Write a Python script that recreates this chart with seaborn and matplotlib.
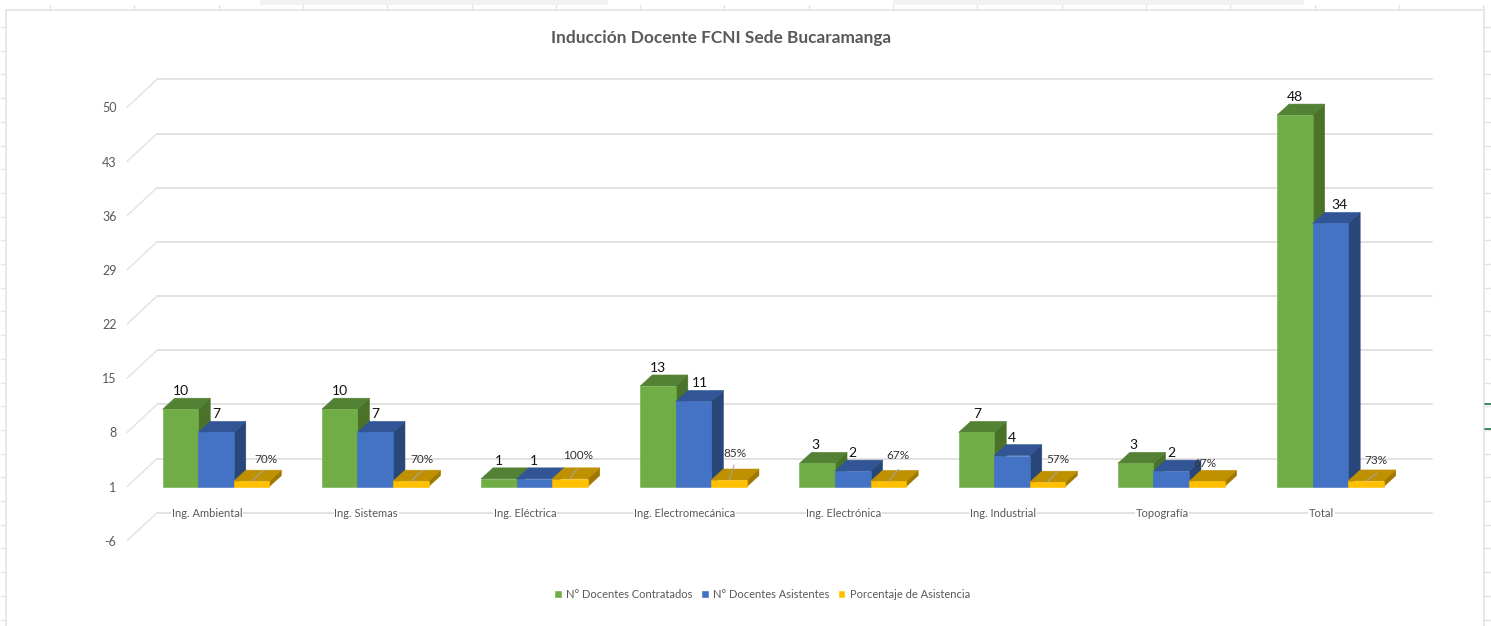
import numpy as np
import pandas as pd
import matplotlib
matplotlib.use("Agg")
import matplotlib.pyplot as plt
from matplotlib.lines import Line2D
from matplotlib.patches import Polygon, Rectangle
from matplotlib.transforms import Affine2D
import seaborn as sns

# ---------- data ----------
categories = ["Ing. Ambiental", "Ing. Sistemas", "Ing. Eléctrica", "Ing. Electromecánica",
              "Ing. Electrónica", "Ing. Industrial", "Topografía", "Total"]
contratados = [10, 10, 1, 13, 3, 7, 3, 48]
asistentes = [7, 7, 1, 11, 2, 4, 2, 34]
porcentaje = [0.70, 0.70, 1.00, 0.85, 0.67, 0.57, 0.67, 0.73]
series_names = ["N° Docentes Contratados", "N° Docentes Asistentes", "Porcentaje de Asistencia"]
axis_labels = [50, 43, 36, 29, 22, 15, 8, 1, -6]
title_text = "Inducción Docente FCNI Sede Bucaramanga"

# ---------- layout and style ----------
W, H = 1491, 626
PX_UNIT = 7.74       # pixels per value unit
BASE_Y = 486.6       # pixel row of the bar floor
CAT_X0, CAT_STEP = 216.0, 159.2
AX_L, AX_R, AX_T, AX_B = 127, 1432, 70, 542
DEPTH_X, DEPTH_Y = 12, 11
WALL_X, WALL_Y = 30, 28
front = ["#70AD47", "#4472C4", "#FFC000"]
top_c = ["#548235", "#325596", "#BF9000"]
side_c = ["#4A7229", "#294679", "#A07800"]
GRID = "#E2E2E2"
TEXT = "#595959"
green_dx = [0, 0, 0, 0, -2, 1, -2, 0]
blue_dx = [0, 0, 0, 6, 0, 0, 0, 9]
pct_dx = [14, 11, 8, 6, 10, 10, -2, 10]
pct_dy = [22, 22, 23, 27, 26, 23, 18, 20]
lead_end = [(12, 11), (12, 11), (7, 10), (5, 15), (10, 12), (10, 11), None, (11, 8)]

sns.set_theme(style="white")
plt.rcParams["font.family"] = ["Lato", "DejaVu Sans"]

df = pd.DataFrame({
    "cat": categories * 3,
    "serie": np.repeat(series_names, len(categories)),
    "valor": contratados + asistentes + porcentaje,
})

fig = plt.figure(figsize=(W / 100, H / 100), dpi=100, facecolor="white")
ax = fig.add_axes([AX_L / W, 1 - AX_B / H, (AX_R - AX_L) / W, (AX_B - AX_T) / H])
sns.barplot(data=df, x="cat", y="valor", hue="serie", order=categories, hue_order=series_names,
            palette=front, saturation=1, width=0.67, gap=0, errorbar=None, ax=ax, zorder=3)

ax.set_xlim((AX_L - CAT_X0) / CAT_STEP, (AX_R - CAT_X0) / CAT_STEP)
ax.set_ylim((BASE_Y - AX_B) / PX_UNIT, (BASE_Y - AX_T) / PX_UNIT)
ax.patch.set_alpha(0)
ax.set_axisbelow(False)
sns.despine(ax=ax, left=True, bottom=True, top=True, right=True)
ax.set_xlabel("")
ax.set_ylabel("")

# Axis labels sit on the front plane, one unit below the bars' own scale.
ticks = [v - 1 for v in axis_labels]
ax.set_yticks(ticks, [str(v) for v in axis_labels])
ax.tick_params(axis="y", length=0, pad=7.5, labelsize=9, labelcolor=TEXT)
ax.tick_params(axis="x", length=0, pad=-24.8, labelsize=8, labelcolor=TEXT)
for lab in ax.get_xticklabels():
    lab.set_transform(lab.get_transform() + Affine2D().translate(-9, 0))
    lab.set_bbox(dict(fc="white", ec="none", pad=0.5))

# Back wall lines with their diagonal to the front plane
lift = ax.get_yaxis_transform() + Affine2D().translate(0, WALL_Y)
frac = WALL_X / (AX_R - AX_L)
for t in ticks:
    ax.plot([frac, 1], [t, t], transform=lift, color=GRID, lw=1.4, zorder=1, clip_on=False)
    ax.add_line(Line2D([AX_L, AX_L + WALL_X], [H - (BASE_Y - PX_UNIT * t), H - (BASE_Y - PX_UNIT * t) + WALL_Y],
                       transform=Affine2D(), color=GRID, lw=1.0, zorder=1, clip_on=False))

# 3D faces, derived from the bars that seaborn drew
to_disp = ax.transData
for s, cont in enumerate(ax.containers):
    for i, p in enumerate(cont.patches):
        x0, x1 = p.get_x(), p.get_x() + p.get_width()
        h = p.get_height()
        (px0, py0), (px1, py1) = to_disp.transform([(x0, 0), (x1, h)])
        z = 3 + s * 0.3
        ax.add_patch(Polygon([(px1, py0), (px1 + DEPTH_X, py0 + DEPTH_Y), (px1 + DEPTH_X, py1 + DEPTH_Y), (px1, py1)],
                             closed=True, transform=Affine2D(), fc=side_c[s], ec=side_c[s], lw=0.4, zorder=z, clip_on=False))
        ax.add_patch(Polygon([(px0, py1), (px0 + DEPTH_X, py1 + DEPTH_Y), (px1 + DEPTH_X, py1 + DEPTH_Y), (px1, py1)],
                             closed=True, transform=Affine2D(), fc=top_c[s], ec=top_c[s], lw=0.4, zorder=z + 0.1, clip_on=False))
        p.set_zorder(z + 0.2)
        p.set_edgecolor(front[s])
        p.set_linewidth(0.4)

# Data labels
for s, cont in enumerate(ax.containers):
    for i, p in enumerate(cont.patches):
        cx = p.get_x() + p.get_width() / 2
        h = p.get_height()
        if s == 2:
            ax.annotate(f"{h:.0%}", (cx, h), xytext=(pct_dx[i], pct_dy[i]), textcoords="offset pixels",
                        ha="center", va="center", fontsize=8.5, color="#333333", zorder=6)
            if lead_end[i] is not None:
                ax.annotate("", (cx, h), xytext=lead_end[i], textcoords="offset pixels", zorder=5,
                            arrowprops=dict(arrowstyle="-", color="#A6A6A6", lw=0.8, shrinkA=0, shrinkB=0))
        else:
            dx = (green_dx if s == 0 else blue_dx)[i]
            ax.annotate(f"{h:.0f}", (cx, h), xytext=(dx, 18), textcoords="offset pixels",
                        ha="center", va="center", fontsize=10, color="#111111", zorder=6)

# Legend and title
sns.move_legend(ax, "center", bbox_to_anchor=(762 / W, 1 - 594 / H), bbox_transform=fig.transFigure,
                ncol=3, frameon=False, title=None, fontsize=8, handlelength=0.7, handleheight=0.7,
                handletextpad=0.4, columnspacing=0.75, labelcolor=TEXT)
fig.text(721 / W, 1 - 38 / H, title_text, ha="center", va="center", fontsize=12.4,
         fontweight="bold", color=TEXT)

# Surrounding spreadsheet cells
EDGE = "#E4E4E4"
fig_px = Affine2D().scale(1 / W, 1 / H)
def seg(x0, y0, x1, y1, c=EDGE, lw=1.0):
    fig.add_artist(Line2D([x0, x1], [H - y0, H - y1], transform=fig_px + fig.transFigure, color=c, lw=lw))
seg(6, 10, 1484, 10, lw=1.2)
seg(6, 10, 6, H, lw=1.2)
seg(1484, 10, 1484, H, lw=1.2)
for x in np.arange(50, 1490, 84.3):
    seg(x, 5, x, 10)
for y in np.arange(27, H, 23.7):
    seg(1, y, 6, y)
    seg(1484, y, 1491, y)
for x0, x1 in [(260, 608), (893, 1304)]:
    fig.add_artist(Rectangle((x0 / W, 1 - 5 / H), (x1 - x0) / W, 5 / H, transform=fig.transFigure,
                             fc="#F2F2F2", ec="none"))
for y in (404, 429):
    seg(1485, y, 1491, y, c="#217346", lw=1.2)

fig.savefig("out.png", dpi=100)
